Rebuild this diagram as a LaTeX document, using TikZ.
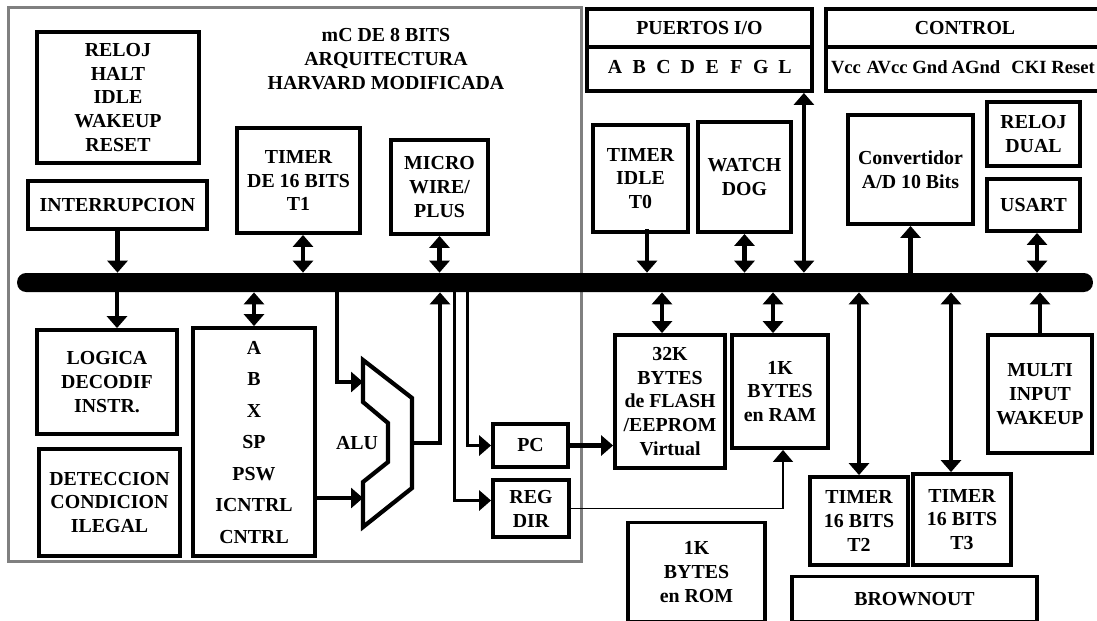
\documentclass[tikz,border=0pt]{standalone}
\usepackage{fontspec}
\setmainfont{Liberation Serif}
\usetikzlibrary{arrows.meta,positioning,calc}

\begin{document}
\begin{tikzpicture}[
    x=0.02cm, y=-0.02cm,
    blk/.style={draw, line width=2.2pt, align=center, inner sep=1pt, font=\bfseries\fontsize{11.3}{13.6}\selectfont},
    lbl/.style={inner sep=0pt, align=center, font=\bfseries\fontsize{11.3}{13.6}\selectfont},
    pin/.style={lbl, anchor=base, font=\bfseries\fontsize{10.6}{12.8}\selectfont},
    sgl/.style={-{Triangle[width=0.4cm,length=0.24cm]}, line width=2.5pt},
    dbl/.style={{Triangle[width=0.4cm,length=0.24cm]}-{Triangle[width=0.4cm,length=0.24cm]}, line width=2.5pt},
    wire/.style={line width=1.8pt},
    thinwire/.style={line width=1.1pt}
]
  \useasboundingbox (0,0) rectangle (1097,620);
  \clip (0,0) rectangle (1097,620);

  % frame of the microcontroller core and the bus
  \node[draw=gray, line width=1.7pt, minimum width=11.48cm, minimum height=11.1cm] (cpu) at (295,284.5) {};
  \node[fill=black, rounded corners=0.18cm, minimum width=21.52cm, minimum height=0.38cm, inner sep=0pt] (bus) at (555,282.5) {};

  \node[lbl] (title) at (386,59) {mC DE 8 BITS\\ARQUITECTURA\\HARVARD MODIFICADA};

  % blocks above the bus
  \node[blk, minimum width=3.24cm, minimum height=2.62cm] (clk) at (118,97.5) {RELOJ\\HALT\\IDLE\\WAKEUP\\RESET};
  \node[blk, minimum width=3.58cm, minimum height=0.96cm] (intr) at (117.5,205) {INTERRUPCION};
  \node[blk, minimum width=2.46cm, minimum height=2.10cm] (t1) at (298.5,180.5) {TIMER\\DE 16 BITS\\T1};
  \node[blk, minimum width=1.94cm, minimum height=1.88cm] (mw) at (439.5,187) {MICRO\\WIRE/\\PLUS};
  \node[blk, minimum width=4.50cm, minimum height=1.64cm] (io) at (699.5,50) {};
  \node[blk, minimum width=5.58cm, minimum height=1.64cm] (ctl) at (965.5,50) {};
  \node[blk, minimum width=1.90cm, minimum height=2.14cm] (t0) at (640.5,178.5) {TIMER\\IDLE\\T0};
  \node[blk, minimum width=1.86cm, minimum height=2.20cm] (wd) at (744.5,177) {WATCH\\DOG};
  \node[blk, minimum width=2.50cm, minimum height=2.18cm] (adc) at (910.5,169.5) {Convertidor\\A/D 10 Bits};
  \node[blk, minimum width=1.86cm, minimum height=1.28cm] (dual) at (1033.5,134) {RELOJ\\DUAL};
  \node[blk, minimum width=1.86cm, minimum height=1.04cm] (usart) at (1033.5,205) {USART};

  % port and control headers
  \draw[line width=2.2pt] ([yshift=0.06cm]io.west) -- ([yshift=0.06cm]io.east);
  \draw[line width=2.2pt] ([yshift=0.06cm]ctl.west) -- ([yshift=0.06cm]ctl.east);
  \node[lbl] (iot) at (699.5,28) {PUERTOS I/O};
  \node[lbl] (ctlt) at (965,28) {CONTROL};
  \foreach \c [count=\i from 0] in {A,B,C,D,E,F,G,L}
    \node[lbl] (p\c) at (615+24.3*\i,67) {\c};
  \foreach \w/\px in {Vcc/846,AVcc/887,Gnd/930,AGnd/976,CKI/1029,Reset/1073}
    \node[pin] (c\w) at (\px,73) {\w};

  % blocks below the bus
  \node[blk, minimum width=2.80cm, minimum height=2.08cm] (lgc) at (107,382) {LOGICA\\DECODIF\\INSTR.};
  \node[blk, minimum width=2.82cm, minimum height=2.14cm] (det) at (109.5,502.5) {DETECCION\\CONDICION\\ILEGAL};
  \node[blk, minimum width=2.44cm, minimum height=4.56cm] (reg) at (254,442) {};
  \foreach \r [count=\i from 0] in {A,B,X,SP,PSW,ICNTRL,CNTRL}
    \node[lbl] (r\r) at (254,348+31.5*\i) {\r};
  \node[blk, minimum width=1.50cm, minimum height=0.86cm] (pc) at (530.5,445.5) {PC};
  \node[blk, minimum width=1.52cm, minimum height=1.14cm] (rdir) at (531,508.5) {REG\\DIR};
  \node[blk, minimum width=2.20cm, minimum height=2.66cm] (flash) at (670,401.5) {32K\\BYTES\\de FLASH\\/EEPROM\\Virtual};
  \node[blk, minimum width=1.92cm, minimum height=2.26cm] (ram) at (780,391.5) {1K\\BYTES\\en RAM};
  \node[blk, minimum width=2.74cm, minimum height=1.98cm] (rom) at (696.5,572) {1K\\BYTES\\en ROM};
  \node[blk, minimum width=1.96cm, minimum height=1.76cm] (t2) at (859,521) {TIMER\\16 BITS\\T2};
  \node[blk, minimum width=1.96cm, minimum height=1.82cm] (t3) at (962,519.5) {TIMER\\16 BITS\\T3};
  \node[blk, minimum width=2.08cm, minimum height=2.36cm] (multi) at (1040,394) {MULTI\\INPUT\\WAKEUP};
  \node[blk, minimum width=4.90cm, minimum height=0.90cm] (brown) at (914.5,599) {BROWNOUT};

  % ALU
  \draw[line width=2.4pt] (363,360) -- (412,398) -- (412,488) -- (363,527) -- (363,482)
    -- (388,462) -- (388,423) -- (363,402) -- cycle;
  \node[lbl] (alu) at (357,443) {ALU};
  \coordinate (alua) at (363,382);
  \coordinate (alub) at (363,498);
  \coordinate (aluo) at (412,443);

  % taps
  \coordinate (t1b) at ($(t1.south)+(4.5,0)$);
  \coordinate (t0b) at ($(t0.south)+(6.5,-5)$);
  \coordinate (iob) at ($(io.south east)+(-10,0)$);
  \coordinate (usb) at ($(usart.south)+(3.5,0)$);
  \coordinate (lgcb) at ($(lgc.north)+(10,0)$);
  \coordinate (flb) at ($(flash.north)+(-8,0)$);
  \coordinate (rmb) at ($(ram.north)+(-7,0)$);
  \coordinate (t3b) at ($(t3.north)+(-11,0)$);
  \coordinate (ta) at ($(alua)+(-26,0)$);
  \coordinate (tb) at ($(aluo)+(28,0)$);
  \coordinate (tc) at ($(pc.west)+(-24,0)$);
  \coordinate (rdi) at ($(rdir.west)+(0,-8)$);
  \coordinate (td) at ($(rdi)+(-37,0)$);
  \coordinate (rms) at ($(ram.south)+(3,0)$);

  % connectors above the bus
  \draw[sgl] (intr.south) -- (intr.south |- bus.north);
  \draw[dbl] (t1b) -- (t1b |- bus.north);
  \draw[dbl] (mw.south) -- (mw.south |- bus.north);
  \draw[sgl] (t0b) -- (t0b |- bus.north);
  \draw[dbl] (wd.south) -- (wd.south |- bus.north);
  \draw[dbl] (iob) -- (iob |- bus.north);
  \draw[sgl] (adc.south |- bus.north) -- (adc.south);
  \draw[dbl] (usb) -- (usb |- bus.north);

  % connectors below the bus
  \draw[sgl] (lgcb |- bus.south) -- (lgcb);
  \draw[dbl] (reg.north |- bus.south) -- (reg.north);
  \draw[dbl] (flb |- bus.south) -- (flb);
  \draw[dbl] (rmb |- bus.south) -- (rmb);
  \draw[dbl] (t2.north |- bus.south) -- (t2.north);
  \draw[dbl] (t3b |- bus.south) -- (t3b);
  \draw[sgl] (multi.north) -- (multi.north |- bus.south);

  % data paths of the core
  \draw[sgl, wire] (ta |- bus.south) -- (ta) -- (alua);
  \draw[sgl, wire] (reg.east |- alub) -- (alub);
  \draw[sgl, wire] (aluo) -- (tb) -- (tb |- bus.south);
  \draw[sgl, wire] (tc |- bus.south) |- (pc.west);
  \draw[sgl, wire] (td |- bus.south) -- (td) -- (rdi);
  \draw[sgl] (pc.east) -- (pc.east -| flash.west);
  \draw[sgl, thinwire] (rdir.east) -| (rms);
\end{tikzpicture}
\end{document}
